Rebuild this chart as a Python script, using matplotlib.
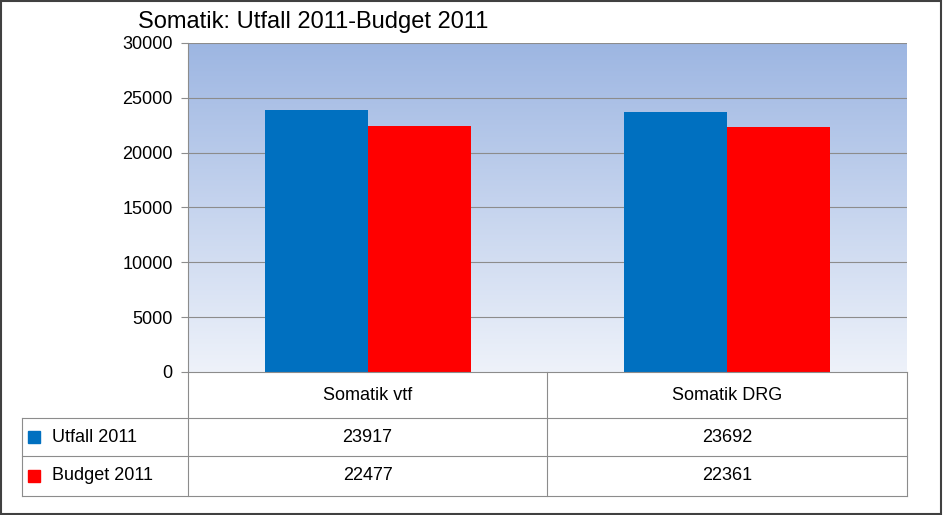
import matplotlib
matplotlib.use("Agg")
import matplotlib.pyplot as plt
import numpy as np
from matplotlib.colors import LinearSegmentedColormap

categories = ["Somatik vtf", "Somatik DRG"]
series_names = ["Utfall 2011", "Budget 2011"]
utfall = [23917, 23692]
budget = [22477, 22361]
yticks = [0, 5000, 10000, 15000, 20000, 25000, 30000]
colors = ["#0070C0", "#FF0000"]

W, H = 943, 515
fig = plt.figure(figsize=(W/100, H/100), dpi=100)
fig.patch.set_facecolor("white")
font = "Liberation Sans"

def px(x, y):
    return x / W, 1 - y / H

L, R, T, B = 188, 907, 43, 372
ax = fig.add_axes([L/W, 1-B/H, (R-L)/W, (B-T)/H])
ax.set_xlim(0, 2)
ax.set_ylim(0, 30000)
cmap = LinearSegmentedColormap.from_list("g", ["#eef2fa", "#9db6e2"])
grad = np.linspace(0, 1, 256).reshape(-1, 1)
ax.imshow(grad, extent=[0, 2, 0, 30000], aspect="auto", origin="lower", cmap=cmap, zorder=0)
for v in yticks[1:]:
    ax.axhline(v, color="#8c8c8c", lw=0.8, zorder=1)
bw = 0.287
x = np.arange(len(categories)) + 0.5
ax.bar(x - bw/2, utfall, bw, color=colors[0], zorder=2)
ax.bar(x + bw/2, budget, bw, color=colors[1], zorder=2)
ax.set_yticks(yticks)
ax.set_yticklabels([str(v) for v in yticks], fontsize=13, fontname=font)
ax.tick_params(axis="y", length=5, color="#8c8c8c", pad=6)
ax.set_xticks([])
for s in ["top", "right"]:
    ax.spines[s].set_visible(False)
ax.spines["left"].set_color("#8c8c8c")
ax.spines["bottom"].set_color("#8c8c8c")

# table
lc = "#8c8c8c"
rows = [372, 418, 456, 496]
cols = [22, 188, 547, 907]
def line(x0, y0, x1, y1):
    a, b = px(x0, y0); c, d = px(x1, y1)
    fig.add_artist(plt.Line2D([a, c], [b, d], color=lc, lw=0.8))
for y in rows[1:]:
    line(cols[0], y, cols[-1], y)
line(cols[0], rows[1], cols[0], rows[-1])
for c in cols[1:]:
    line(c, rows[0], c, rows[-1])
for i, cat in enumerate(categories):
    cx = (cols[i+1] + cols[i+2]) / 2
    fig.text(*px(cx, (rows[0]+rows[1])/2), cat, ha="center", va="center", fontsize=13, fontname=font)
for r, (name, vals) in enumerate(zip(series_names, [utfall, budget])):
    cy = (rows[r+1] + rows[r+2]) / 2
    a, b = px(33, cy)
    fig.add_artist(plt.Rectangle((a - 5/W, b - 6/H), 12/W, 12/H, color=colors[r], transform=fig.transFigure))
    fig.text(*px(52, cy), name, ha="left", va="center", fontsize=13, fontname=font)
    for i, v in enumerate(vals):
        cx = (cols[i+1] + cols[i+2]) / 2
        fig.text(*px(cx, cy), str(v), ha="center", va="center", fontsize=13, fontname=font)

fig.text(*px(138, 22), "Somatik: Utfall 2011-Budget 2011", ha="left", va="center", fontsize=17, fontname=font)
fig.add_artist(plt.Rectangle((0.001, 0.001), 0.997, 0.997, fill=False, ec="#404040", lw=1.5, transform=fig.transFigure))
fig.savefig("out.png", dpi=100)
